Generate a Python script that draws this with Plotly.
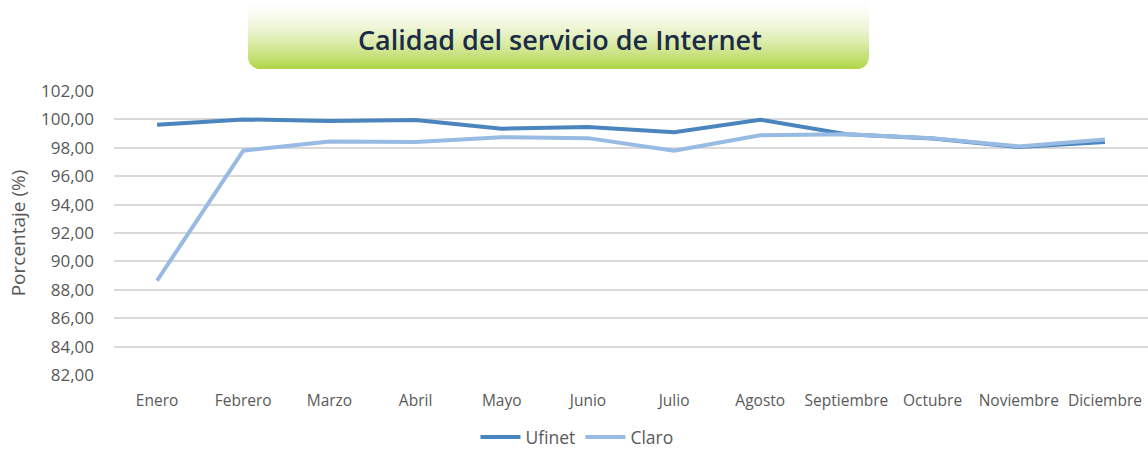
import plotly.graph_objects as go

months = ["Enero", "Febrero", "Marzo", "Abril", "Mayo", "Junio", "Julio",
          "Agosto", "Septiembre", "Octubre", "Noviembre", "Diciembre"]
ufinet = [99.63, 100.0, 99.88, 99.95, 99.35, 99.47, 99.10, 99.98, 98.95, 98.65, 98.05, 98.40]
claro = [88.65, 97.80, 98.45, 98.40, 98.75, 98.68, 97.80, 98.88, 98.95, 98.68, 98.10, 98.58]
y_ticks = [82, 84, 86, 88, 90, 92, 94, 96, 98, 100, 102]

W, H = 1148, 449
ML, MR, MT, MB = 114, 0, 91, 74
PW, PH = W - ML - MR, H - MT - MB

FONT = "Open Sans"
GREY = "#595959"

fig = go.Figure()
fig.add_trace(go.Scatter(x=months, y=ufinet, name="Ufinet", mode="lines",
                         line=dict(color="#4a85bd", width=4)))
fig.add_trace(go.Scatter(x=months, y=claro, name="Claro", mode="lines",
                         line=dict(color="#97bbe2", width=4)))

# Title banner with vertical gradient and rounded bottom corners (pixel -> paper)
def px2x(px):
    return (px - ML) / PW

def py2y(py):
    return 1 - (py - MT) / PH

bx0, bx1, by0, by1 = 248, 869, 0, 69
radius = 12
top_rgb = (255, 255, 255)
bot_rgb = (178, 214, 72)
shapes = []
n = by1 - by0
for i in range(n):
    t = i / (n - 1)
    t2 = t ** 1.6
    r = int(top_rgb[0] + (bot_rgb[0] - top_rgb[0]) * t2)
    g = int(top_rgb[1] + (bot_rgb[1] - top_rgb[1]) * t2)
    b = int(top_rgb[2] + (bot_rgb[2] - top_rgb[2]) * t2)
    yy0 = by0 + i
    yy1 = yy0 + 1
    inset = 0
    ymid = yy0 + 0.5
    if ymid > by1 - radius:
        d = ymid - (by1 - radius)
        inset = radius - (radius ** 2 - d ** 2) ** 0.5
    shapes.append(dict(type="rect", xref="paper", yref="paper",
                       x0=px2x(bx0 + inset), x1=px2x(bx1 - inset),
                       y0=py2y(yy1), y1=py2y(yy0),
                       fillcolor=f"rgb({r},{g},{b})", line=dict(width=0),
                       layer="below"))

fig.update_layout(
    width=W, height=H,
    margin=dict(l=ML, r=MR, t=MT, b=MB, autoexpand=False),
    paper_bgcolor="white", plot_bgcolor="white",
    separators=",.",
    font=dict(family=FONT, color=GREY),
    shapes=shapes,
    showlegend=True,
    legend=dict(orientation="h", x=px2x(577), xanchor="center", y=py2y(437), yanchor="middle",
                font=dict(size=17.5, color=GREY, family=FONT), itemwidth=40,
                traceorder="normal", bgcolor="rgba(0,0,0,0)"),
    annotations=[dict(text="Calidad del servicio de Internet", xref="paper", yref="paper",
                      x=px2x(560), y=py2y(40), xanchor="center", yanchor="middle",
                      showarrow=False,
                      font=dict(family=FONT, size=27, color="#1c2b4a", weight=600))],
)
fig.update_xaxes(type="category", range=[-0.5, 11.5], showgrid=False, showline=False,
                 ticks="", tickfont=dict(size=15.5, color=GREY, family=FONT), ticklabelstandoff=14)
fig.update_yaxes(range=[82, 102], tickvals=y_ticks, tickformat=".2f",
                 showgrid=True, gridcolor="#d9d9d9", gridwidth=1.5, zeroline=False,
                 showline=False, ticks="", ticklabelstandoff=19,
                 tickfont=dict(size=17, color=GREY, family=FONT),
                 title=dict(text="Porcentaje (%)", font=dict(size=19, color=GREY, family=FONT),
                            standoff=10))

fig.write_html("out.html", config={"displayModeBar": False},
               post_script="document.body.style.margin='0';document.body.style.padding='0';")
